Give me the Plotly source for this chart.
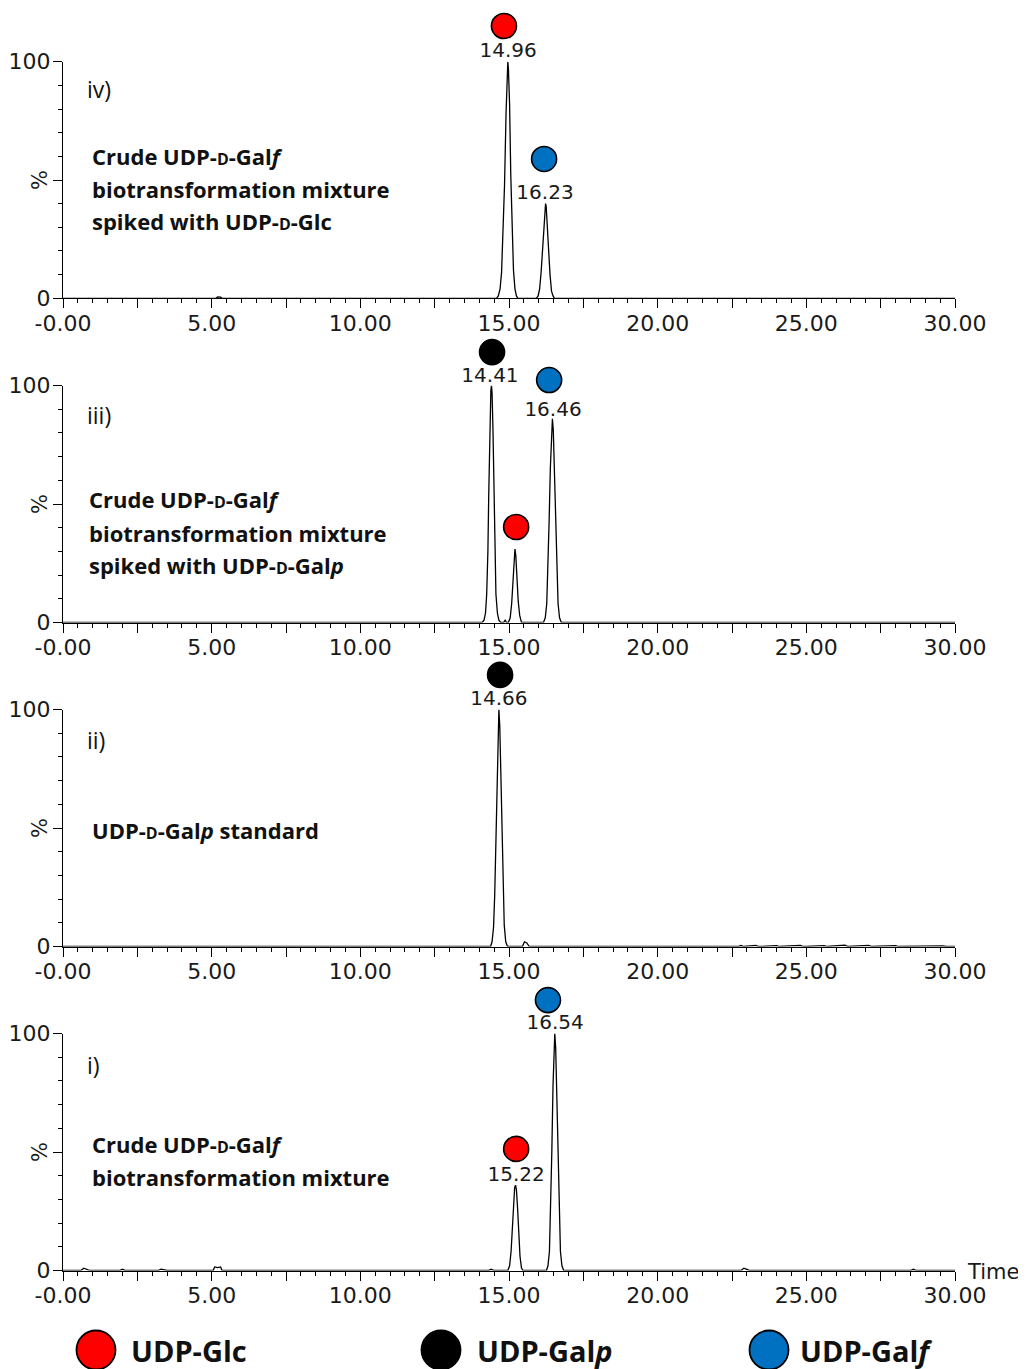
import plotly.graph_objects as go

# ---------------- data ----------------
# Panel iv) crude UDP-D-Galf mixture spiked with UDP-D-Glc
iv_time = [0.0, 5.15, 5.2, 5.3, 5.35,
           14.58, 14.64, 14.70, 14.75, 14.80, 14.85, 14.90, 14.94, 14.96, 14.98, 15.02, 15.06, 15.10, 15.15, 15.20, 15.25, 15.30,
           15.92, 15.98, 16.03, 16.08, 16.13, 16.17, 16.21, 16.23, 16.25, 16.29, 16.33, 16.38, 16.43, 16.48, 16.53, 30.0]
iv_signal = [0, 0, 0.6, 0.5, 0,
             0, 1, 4, 11, 27, 48, 78, 96, 100, 97, 82, 52, 28, 12, 4, 1, 0,
             0, 1, 4, 11, 22, 32, 39, 40, 39, 32, 21, 10, 3, 1, 0, 0]

# Panel iii) crude mixture spiked with UDP-D-Galp
iii_time = [0.0, 14.10, 14.16, 14.21, 14.25, 14.29, 14.32, 14.36, 14.39, 14.41, 14.43, 14.46, 14.49, 14.52, 14.56, 14.61, 14.66, 14.72,
            14.82, 14.87, 14.92,
            14.98, 15.04, 15.09, 15.13, 15.17, 15.20, 15.23, 15.27, 15.31, 15.36, 15.42,
            16.16, 16.22, 16.27, 16.31, 16.35, 16.39, 16.43, 16.46, 16.49, 16.53, 16.57, 16.61, 16.65, 16.70, 16.76, 30.0]
iii_signal = [0, 0, 1, 4, 12, 30, 55, 85, 98, 100, 97, 82, 55, 30, 12, 4, 1, 0,
              0, 1, 0,
              0, 2, 8, 18, 28, 31, 28, 18, 9, 3, 0,
              0, 2, 8, 22, 43, 65, 82, 86, 81, 62, 40, 20, 8, 2, 0, 0]

# Panel ii) UDP-D-Galp standard
ii_time = [0.0, 14.38, 14.43, 14.48, 14.52, 14.56, 14.60, 14.63, 14.66, 14.69, 14.72, 14.76, 14.80, 14.84, 14.89, 14.95,
           15.45, 15.52, 15.60, 15.68,
           22.7, 22.8, 22.9, 23.3, 23.4, 23.5, 24.0, 24.1, 24.8, 24.9, 25.0, 25.6, 25.7, 26.3, 26.4, 27.1, 27.2,
           28.0, 28.1, 29.6, 29.7, 30.0]
ii_signal = [0, 0, 2, 8, 22, 45, 72, 92, 100, 93, 75, 48, 24, 9, 2, 0,
             0, 2, 1.5, 0,
             0, 0.4, 0, 0.5, 0, 0, 0.4, 0, 0.5, 0, 0, 0.4, 0, 0.6, 0, 0.5, 0,
             0.4, 0, 0.3, 0, 0]

# Panel i) crude UDP-D-Galf biotransformation mixture
i_time = [0.0, 0.6, 0.7, 0.8, 0.9, 1.9, 2.0, 2.1, 3.2, 3.3, 3.4, 3.5, 5.05, 5.1, 5.2, 5.3, 5.35, 14.3, 14.4, 14.5,
          14.96, 15.02, 15.07, 15.11, 15.15, 15.19, 15.22, 15.25, 15.29, 15.33, 15.37, 15.42, 15.47,
          16.26, 16.31, 16.36, 16.40, 16.44, 16.48, 16.51, 16.54, 16.57, 16.61, 16.65, 16.69, 16.73, 16.78, 16.84,
          22.8, 22.9, 23.0, 23.1, 28.5, 28.6, 28.7, 30.0]
i_signal = [0, 0, 1, 0.6, 0, 0, 0.5, 0, 0, 0.6, 0.4, 0, 0, 1.5, 1.2, 1.5, 0, 0, 0.5, 0,
            0, 2, 8, 18, 29, 35, 36, 34, 26, 15, 6, 1, 0,
            0, 2, 8, 24, 50, 78, 95, 100, 94, 74, 46, 22, 8, 2, 0,
            0, 1, 0.5, 0, 0, 0.5, 0, 0]

# peak annotations: compound key, circle position (time, %), label text and position
iv_peaks_kind = ["glc", "galf"]
iv_circle_x = [14.83, 16.18]
iv_circle_y = [115.1, 58.9]
iv_label_text = ["14.96", "16.23"]
iv_label_x = [14.97, 16.21]
iv_label_y = [104.0, 44.0]

iii_peaks_kind = ["galp", "galf", "glc"]
iii_circle_x = [14.43, 16.35, 15.24]
iii_circle_y = [114.1, 102.3, 40.3]
iii_label_text = ["14.41", "16.46"]
iii_label_x = [14.36, 16.48]
iii_label_y = [103.6, 89.3]

ii_peaks_kind = ["galp"]
ii_circle_x = [14.70]
ii_circle_y = [114.6]
ii_label_text = ["14.66"]
ii_label_x = [14.66]
ii_label_y = [104.1]

i_peaks_kind = ["galf", "glc"]
i_circle_x = [16.31, 15.24]
i_circle_y = [114.1, 51.3]
i_label_text = ["16.54", "15.22"]
i_label_x = [16.55, 15.24]
i_label_y = [104.1, 39.9]

# panel tags and description lines
panel_tags = ["iv)", "iii)", "ii)", "i)"]
SC_D = "<span style='font-size:16px'>D</span>"
iv_lines = ["Crude UDP-" + SC_D + "-Gal<i>f</i>", "biotransformation mixture", "spiked with UDP-" + SC_D + "-Glc"]
iii_lines = ["Crude UDP-" + SC_D + "-Gal<i>f</i>", "biotransformation mixture", "spiked with UDP-" + SC_D + "-Gal<i>p</i>"]
ii_lines = ["UDP-" + SC_D + "-Gal<i>p</i> standard"]
i_lines = ["Crude UDP-" + SC_D + "-Gal<i>f</i>", "biotransformation mixture"]

# x tick values/labels
x_tickvals = [0, 2.5, 5, 7.5, 10, 12.5, 15, 17.5, 20, 22.5, 25, 27.5, 30]
x_ticktext = ["-0.00", "", "5.00", "", "10.00", "", "15.00", "", "20.00", "", "25.00", "", "30.00"]
y_tickvals = [0, 50, 100]
y_ticktext = ["0", "", "100"]

# legend
legend_kind = ["glc", "galp", "galf"]
legend_text = ["UDP-Glc", "UDP-Gal<i>p</i>", "UDP-Gal<i>f</i>"]
colors = {"glc": "#FF0000", "galp": "#000000", "galf": "#0070C0"}

# ---------------- layout constants ----------------
W, H = 1026, 1369
OFF = 8  # page body margin: the figure is drawn 8px right/down of the window corner
X_DOM = [(63 - OFF) / W, (955 - OFF) / W]
panel_px = [(61.7, 298.3), (385.5, 622.5), (709.5, 946.5), (1033.5, 1270.5)]
Y_DOMS = [[1 - (b - OFF) / H, 1 - (t - OFF) / H] for t, b in panel_px]
EXT = 0.038  # extra paper height above each panel for the peak markers

TICK_FONT = dict(family="DejaVu Sans", size=22, color="#1a1a1a")
LABEL_FONT = dict(family="DejaVu Sans", size=20, color="#1a1a1a")
DESC_FONT = dict(family="Open Sans", size=22, color="#111111")

panels = [
    (iv_time, iv_signal, iv_peaks_kind, iv_circle_x, iv_circle_y, iv_label_text, iv_label_x, iv_label_y, iv_lines,
     0.90, [60.1, 46.2, 32.7], 88.5),
    (iii_time, iii_signal, iii_peaks_kind, iii_circle_x, iii_circle_y, iii_label_text, iii_label_x, iii_label_y, iii_lines,
     0.80, [52.1, 37.8, 24.3], 87.6),
    (ii_time, ii_signal, ii_peaks_kind, ii_circle_x, ii_circle_y, ii_label_text, ii_label_x, ii_label_y, ii_lines,
     0.90, [49.2], 87.1),
    (i_time, i_signal, i_peaks_kind, i_circle_x, i_circle_y, i_label_text, i_label_x, i_label_y, i_lines,
     0.90, [53.4, 39.5], 86.7),
]

fig = go.Figure()
annotations = []
layout = {}

for k, (t, s, kinds, cx, cy, lt, lx, ly, lines, tx, ty, tagy) in enumerate(panels):
    n = k + 1
    xa = "x" if n == 1 else f"x{n}"
    ya = "y" if n == 1 else f"y{n}"
    yo = f"y{10 + n}"  # overlay axis (same % scale, taller domain) for markers above the frame
    fig.add_trace(go.Scatter(x=t, y=s, mode="lines", line=dict(color="black", width=1.3),
                             xaxis=xa, yaxis=ya, showlegend=False, hoverinfo="skip"))
    fig.add_trace(go.Scatter(x=lx, y=ly, mode="text", text=lt, textfont=LABEL_FONT,
                             textposition="middle center", cliponaxis=False,
                             xaxis=xa, yaxis=yo, showlegend=False))
    fig.add_trace(go.Scatter(x=cx, y=cy, mode="markers", cliponaxis=False,
                             marker=dict(size=25, color=[colors[c] for c in kinds],
                                         line=dict(color="black", width=1.6)),
                             xaxis=xa, yaxis=yo, showlegend=False))
    layout[f"xaxis{n}"] = dict(
        domain=X_DOM, anchor=ya, range=[0, 30], showgrid=False, zeroline=False,
        showline=True, linecolor="black", linewidth=1,
        tickmode="array", tickvals=x_tickvals, ticktext=x_ticktext,
        ticks="outside", ticklen=9, tickwidth=1, tickcolor="black", tickfont=TICK_FONT,
        ticklabelstandoff=-4,
        minor=dict(tickmode="linear", tick0=0, dtick=0.5, ticks="outside", ticklen=4,
                   tickwidth=1, tickcolor="black", showgrid=False),
    )
    layout[f"yaxis{n}"] = dict(
        domain=Y_DOMS[k], anchor=xa, range=[0, 100], showgrid=False, zeroline=False,
        showline=True, linecolor="black", linewidth=1,
        tickmode="array", tickvals=y_tickvals, ticktext=y_ticktext,
        ticks="outside", ticklen=9, tickwidth=1, tickcolor="black", tickfont=TICK_FONT,
        ticklabelstandoff=-2,
        minor=dict(tickmode="linear", tick0=0, dtick=10, ticks="outside", ticklen=4,
                   tickwidth=1, tickcolor="black", showgrid=False),
    )
    d0, d1 = Y_DOMS[k]
    top = min(d1 + EXT, 1.0)
    layout[f"yaxis{10 + n}"] = dict(
        domain=[d0, top], anchor=xa, range=[0, 100 * (top - d0) / (d1 - d0)],
        visible=False, showgrid=False, zeroline=False,
    )
    # "%" axis label
    annotations.append(dict(text="%", xref="paper", yref=ya + " domain", x=(40 - OFF) / W, y=0.5,
                            textangle=-90, showarrow=False, font=dict(family="DejaVu Sans", size=21, color="#1a1a1a"),
                            xanchor="center", yanchor="middle"))
    # panel tag
    annotations.append(dict(text=panel_tags[k], xref=xa, yref=ya, x=0.74, y=tagy, showarrow=False,
                            xanchor="left", yanchor="middle",
                            font=dict(family="Open Sans", size=23, color="#111111")))
    # description
    for line, yy in zip(lines, ty):
        annotations.append(dict(text="<b>" + line + "</b>", xref=xa, yref=ya, x=tx, y=yy, showarrow=False,
                                xanchor="left", yanchor="middle", font=DESC_FONT))

# "Time" axis label
annotations.append(dict(text="Time", xref="paper", yref="paper", x=(965 - OFF) / W, y=1 - (1272 - OFF) / H,
                        xanchor="left", yanchor="middle", showarrow=False,
                        font=dict(family="DejaVu Sans", size=21, color="#1a1a1a")))

# legend row drawn on its own hidden axis (coordinates = window pixels; y measured up from window bottom)
legend_circle_x = [96, 441, 769]
legend_text_x = [129, 475, 798]
legend_y = 1369 - 1350
fig.add_trace(go.Scatter(x=legend_circle_x, y=[legend_y] * 3, mode="markers", cliponaxis=False,
                         marker=dict(size=39, color=[colors[c] for c in legend_kind],
                                     line=dict(color="black", width=1.8)),
                         xaxis="x5", yaxis="y5", showlegend=False))
for tx_, txt in zip(legend_text_x, legend_text):
    annotations.append(dict(text="<b>" + txt + "</b>", xref="x5", yref="y5", x=tx_, y=legend_y,
                            xanchor="left", yanchor="middle", showarrow=False,
                            font=dict(family="Open Sans", size=29, color="#111111")))
layout["xaxis5"] = dict(domain=[0, 1], anchor="y5", range=[OFF, W + OFF], visible=False)
layout["yaxis5"] = dict(domain=[0, 0.08], anchor="x5", range=[-OFF, 0.08 * H - OFF], visible=False)

fig.update_layout(
    width=W, height=H, margin=dict(l=0, r=0, t=0, b=0, pad=0, autoexpand=False),
    plot_bgcolor="rgba(0,0,0,0)", paper_bgcolor="white", showlegend=False,
    annotations=annotations, **layout,
)

fig.write_html("out.html")
